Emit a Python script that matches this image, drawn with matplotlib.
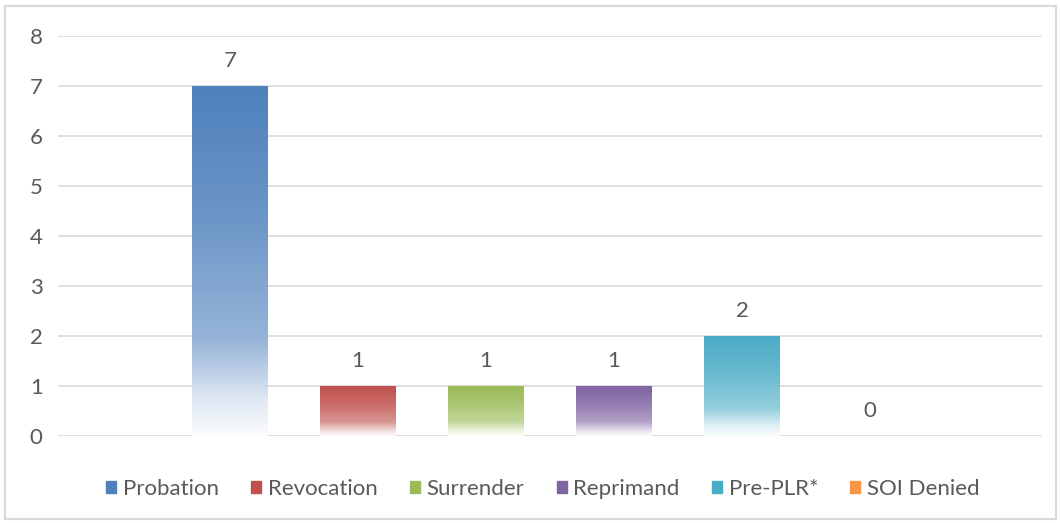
import numpy as np
import matplotlib
matplotlib.use("Agg")
import matplotlib.pyplot as plt
from matplotlib.colors import to_rgb
from matplotlib.patches import Rectangle

# data
categories = ["Probation", "Revocation", "Surrender", "Reprimand", "Pre-PLR*", "SOI Denied"]
values = [7, 1, 1, 1, 2, 0]
colors = ["#4F81BD", "#C0504D", "#9BBB59", "#8064A2", "#4BACC6", "#F79646"]

plt.rcParams["font.family"] = ["Lato", "DejaVu Sans"]
txt = "#595959"
fs = 16

fig = plt.figure(figsize=(10.61, 5.23), dpi=100)
ax = fig.add_axes([58/1061, 1 - 436/523, 984/1061, 400/523])

# outer border of the chart
fig.patches.append(Rectangle((5/1061, 4/523), 1051/1061, 513/523, transform=fig.transFigure,
                             fill=False, edgecolor="#d9d9d9", linewidth=1.5))

x = np.arange(len(categories))
w = 0.586

def grad(c, n=200):
    # top = base color, lighter toward bottom, fading to white at the very bottom
    t = np.linspace(0, 1, n)
    mix = np.interp(t, [0, 0.35, 0.72, 0.9, 1.0], [1.0, 0.85, 0.6, 0.18, 0.02])
    rgb = np.array(to_rgb(c))
    img = mix[:, None] * rgb[None, :] + (1 - mix[:, None]) * 1.0
    return img[:, None, :]

bars = ax.bar(x, values, width=w, color="none", zorder=2)
for b, c, v in zip(bars, colors, values):
    if v > 0:
        ax.imshow(grad(c), extent=[b.get_x(), b.get_x() + w, 0, v], aspect="auto",
                  origin="upper", zorder=2, interpolation="bilinear")
    ax.text(b.get_x() + w / 2, v + 0.5, str(v), ha="center", va="center",
            fontsize=fs, color=txt)

ax.set_xlim(-1.34375, 6.34375)
ax.set_ylim(0, 8)
ax.set_yticks(range(0, 9))
ax.grid(axis="y", color="#d9d9d9", linewidth=1.2, zorder=0)
ax.set_axisbelow(True)
ax.set_xticks([])
for s in ax.spines.values():
    s.set_visible(False)
ax.tick_params(axis="y", length=0, pad=11, labelsize=fs, labelcolor=txt)

handles = [Rectangle((0, 0), 1, 1, color=c) for c in colors]
fig.legend(handles, categories, loc="center", bbox_to_anchor=(543/1061, 1 - 489/523),
           ncol=6, frameon=False, fontsize=fs, labelcolor=txt, handlelength=0.45,
           handleheight=0.45, handletextpad=0.3, columnspacing=1.45)

fig.savefig("out.png", dpi=100)
